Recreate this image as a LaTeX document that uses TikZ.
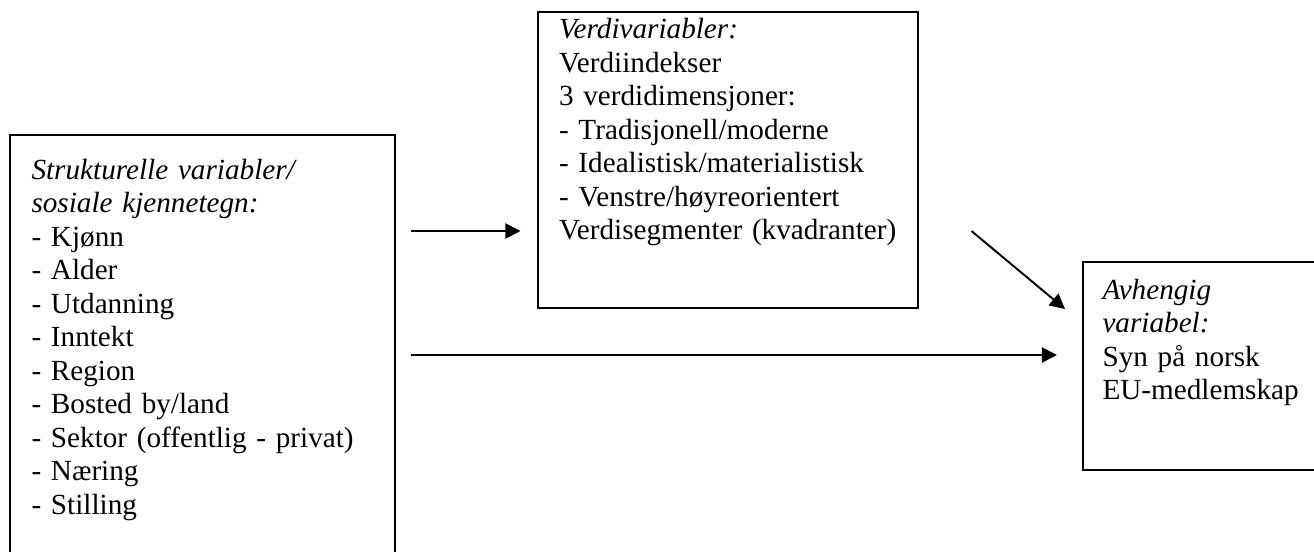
\documentclass[tikz,border=0pt]{standalone}
\usepackage{fontspec}
\setmainfont{Liberation Serif}
\usetikzlibrary{arrows.meta,calc,fit}

\tikzset{
	box/.style={draw, line width=0.8pt, inner sep=0pt},
	boxtext/.style={anchor=base west, inner sep=0pt, align=left, text width=145pt, font=\fontsize{12}{13.77}\selectfont},
	flow/.style={line width=0.8pt, -{Triangle[length=6.2pt,width=6.2pt]}},
}

\begin{document}
\begin{tikzpicture}[x=0.411pt, y=-0.411pt]
	%%%%% START %%%%%
	\useasboundingbox (0,0) rectangle (1314,552);
	
	% the three boxes
	\node[box, fit={(10,135) (395,560)}] (struct) {};
	\node[box, line width=1.2pt, fit={(538,12) (918,308)}] (verdi) {};
	\node[box, fit={(1083,262) (1320,470)}] (avh) {};
	
	\node[boxtext] (struct text) at ($(struct.north west)+(22,45)$) {\textit{Strukturelle variabler/}\\
		\textit{sosiale kjennetegn:}\\
		- Kjønn\\
		- Alder\\
		- Utdanning\\
		- Inntekt\\
		- Region\\
		- Bosted by/land\\
		- Sektor (offentlig - privat)\\
		- Næring\\
		- Stilling};
	
	\node[boxtext] (verdi text) at ($(verdi.north west)+(22,28)$) {\textit{Verdivariabler:}\\
		Verdiindekser\\
		3 verdidimensjoner:\\
		- Tradisjonell/moderne\\
		- Idealistisk/materialistisk\\
		- Venstre/høyreorientert\\
		Verdisegmenter (kvadranter)};
	
	\node[boxtext] (avh text) at ($(avh.north west)+(20,38)$) {\textit{Avhengig}\\
		\textit{variabel:}\\
		Syn på norsk\\
		EU-medlemskap};
	
	% arrows
	\coordinate (upper) at (0,231);
	\coordinate (lower) at (0,355);
	\coordinate (diag start) at ($(verdi.east |- upper)+(52,0)$);
	\coordinate (diag end) at ($(avh.north west)+(-17,48)$);
	
	\draw[flow, shorten <=6.2pt, shorten >=6.6pt] (struct.east |- upper) -- (verdi.west |- upper);
	\draw[flow, shorten <=6.2pt, shorten >=10.3pt] (struct.east |- lower) -- (avh.west |- lower);
	\draw[flow] (diag start) -- (diag end);
	
	%%%%% END %%%%%
\end{tikzpicture}
\end{document}
